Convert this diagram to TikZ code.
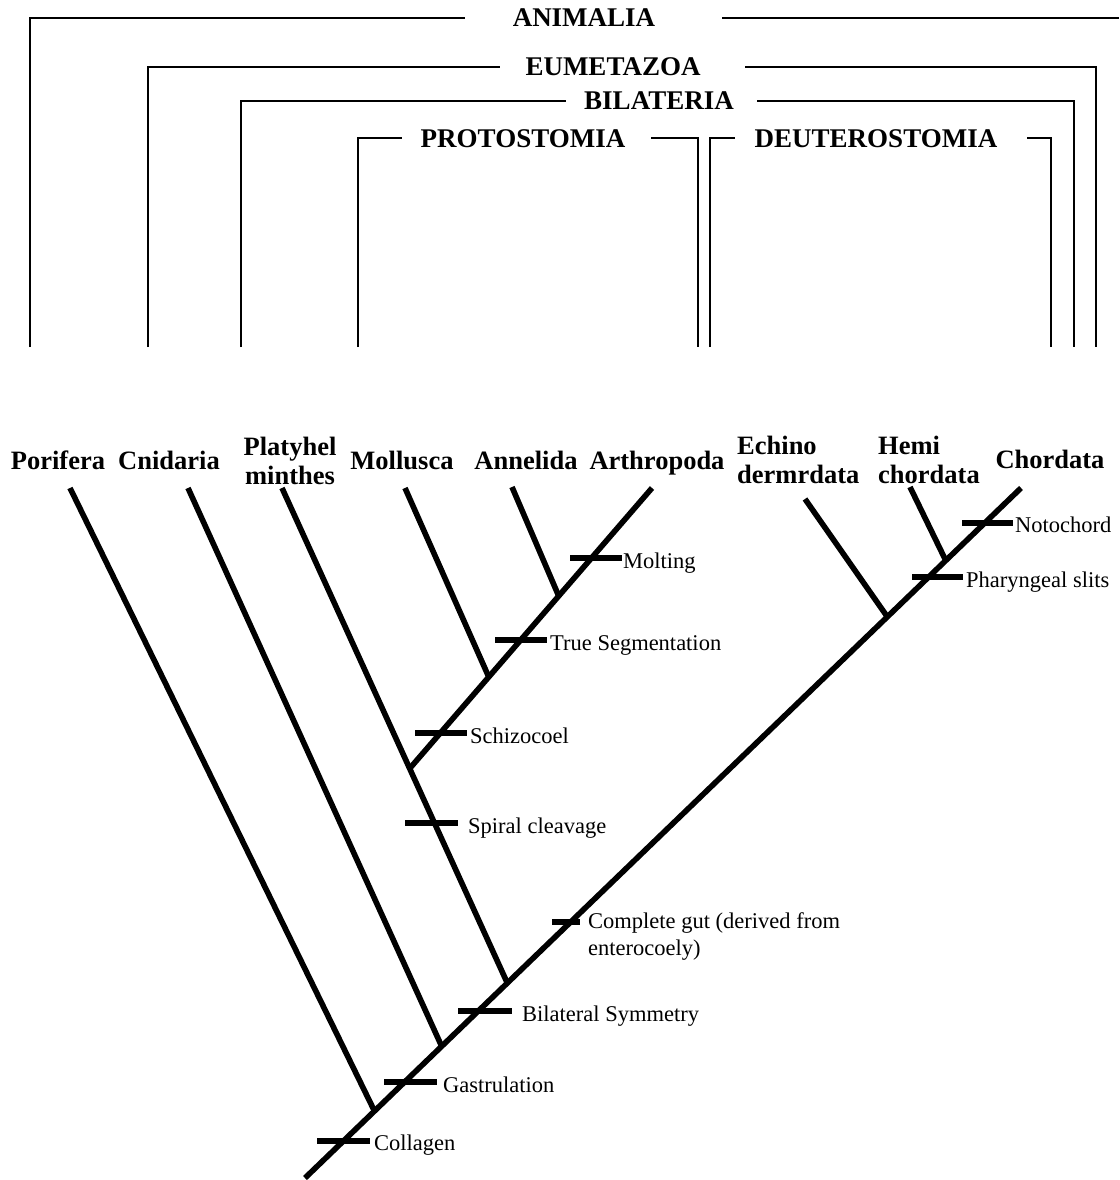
\documentclass[tikz,border=0pt]{standalone}
\usepackage{fontspec}
\setmainfont{Liberation Serif}
\begin{document}
\begin{tikzpicture}[x=1pt,y=-1pt,
  bracket/.style={line width=2.2pt},
  branch/.style={line width=5.6pt},
  tickmark/.style={line width=5.6pt},
  clade/.style={font=\fontsize{27}{30}\selectfont\bfseries, anchor=base, inner sep=0pt},
  taxon/.style={font=\fontsize{26.5}{29}\selectfont\bfseries, inner sep=0pt},
  trait/.style={font=\fontsize{22.5}{27}\selectfont, anchor=base west, inner sep=0pt, align=left}]
\useasboundingbox (0,0) rectangle (1119,1180);

% ---------- clade brackets ----------
\node[clade] (animalia) at (584,27) {ANIMALIA};
\node[clade] (eumetazoa) at (613,76) {EUMETAZOA};
\node[clade] (bilateria) at (659,110) {BILATERIA};
\node[clade] (protostomia) at (523,147) {PROTOSTOMIA};
\node[clade] (deuterostomia) at (876,147) {DEUTEROSTOMIA};

\coordinate (anL0) at (30,347);  \coordinate (anL1) at (465,18);
\coordinate (anR0) at (722,18);  \coordinate (anR1) at (1119,18);
\draw[bracket] (anL0) |- (anL1);
\draw[bracket] (anR0) -- (anR1);

\coordinate (euL0) at (148,347); \coordinate (euL1) at (500,67);
\coordinate (euR0) at (745,67);  \coordinate (euR1) at (1096,347);
\draw[bracket] (euL0) |- (euL1);
\draw[bracket] (euR0) -| (euR1);

\coordinate (biL0) at (241,347); \coordinate (biL1) at (566,101);
\coordinate (biR0) at (757,101); \coordinate (biR1) at (1074,347);
\draw[bracket] (biL0) |- (biL1);
\draw[bracket] (biR0) -| (biR1);

\coordinate (prL0) at (358,347); \coordinate (prL1) at (402,138);
\coordinate (prR0) at (651,138); \coordinate (prR1) at (698,347);
\draw[bracket] (prL0) |- (prL1);
\draw[bracket] (prR0) -| (prR1);

\coordinate (deL0) at (710,347); \coordinate (deL1) at (735,138);
\coordinate (deR0) at (1027,138); \coordinate (deR1) at (1051,347);
\draw[bracket] (deL0) |- (deL1);
\draw[bracket] (deR0) -| (deR1);

% ---------- taxa ----------
\node[taxon, anchor=base] (porifera) at (58,469) {Porifera};
\node[taxon, anchor=base] (cnidaria) at (169,469) {Cnidaria};
\node[taxon, anchor=base, align=center] (platy) at (290,484) {Platyhel\\minthes};
\node[taxon, anchor=base] (mollusca) at (402,469) {Mollusca};
\node[taxon, anchor=base] (annelida) at (526,469) {Annelida};
\node[taxon, anchor=base] (arthropoda) at (657,469) {Arthropoda};
\node[taxon, anchor=base west, align=left] (echino) at (737,483) {Echino\\dermrdata};
\node[taxon, anchor=base west, align=left] (hemi) at (878,483) {Hemi\\chordata};
\node[taxon, anchor=base] (chordata) at (1050,468) {Chordata};

% ---------- tree ----------
\coordinate (root) at (305,1178);
\coordinate (chordTop) at (1021,488);
\draw[branch] (root) -- (chordTop);

\coordinate (porTop) at (70,488);   \coordinate (porDir) at (373,1108);
\coordinate (porJ) at (intersection of porTop--porDir and root--chordTop);
\draw[branch] (porTop) -- (porJ);

\coordinate (cniTop) at (188,488);  \coordinate (cniDir) at (442,1047);
\coordinate (cniJ) at (intersection of cniTop--cniDir and root--chordTop);
\draw[branch] (cniTop) -- (cniJ);

\coordinate (plaTop) at (282,488);  \coordinate (plaDir) at (505,978);
\coordinate (plaJ) at (intersection of plaTop--plaDir and root--chordTop);
\draw[branch] (plaTop) -- (plaJ);

\coordinate (artTop) at (652,488);  \coordinate (proDir) at (411,767);
\coordinate (proJ) at (intersection of artTop--proDir and plaTop--plaDir);
\draw[branch] (proJ) -- (artTop);

\coordinate (molTop) at (405,488);  \coordinate (molDir) at (487,673);
\coordinate (molJ) at (intersection of molTop--molDir and proJ--artTop);
\draw[branch] (molTop) -- (molJ);

\coordinate (annTop) at (512,487);  \coordinate (annDir) at (557,592);
\coordinate (annJ) at (intersection of annTop--annDir and proJ--artTop);
\draw[branch] (annTop) -- (annJ);

\coordinate (echTop) at (805,499);  \coordinate (echDir) at (886,615);
\coordinate (echJ) at (intersection of echTop--echDir and root--chordTop);
\draw[branch] (echTop) -- (echJ);

\coordinate (hemTop) at (910,487);  \coordinate (hemDir) at (944,557);
\coordinate (hemJ) at (intersection of hemTop--hemDir and root--chordTop);
\draw[branch] (hemTop) -- (hemJ);

% ---------- character ticks ----------
\coordinate (tCol0) at (317,1141); \coordinate (tCol1) at (370,1141);
\draw[tickmark] (tCol0) -- (tCol1);
\node[trait] (collagen) at (374,1150) {Collagen};

\coordinate (tGas0) at (384,1082); \coordinate (tGas1) at (437,1082);
\draw[tickmark] (tGas0) -- (tGas1);
\node[trait] (gastrulation) at (443,1092) {Gastrulation};

\coordinate (tBil0) at (458,1011); \coordinate (tBil1) at (512,1011);
\draw[tickmark] (tBil0) -- (tBil1);
\node[trait] (bilateral) at (522,1021) {Bilateral Symmetry};

\coordinate (tGut0) at (552,922); \coordinate (tGut1) at (580,922);
\draw[tickmark] (tGut0) -- (tGut1);
\node[trait] (gut) at (588,955) {Complete gut (derived from\\enterocoely)};

\coordinate (tSpi0) at (405,823); \coordinate (tSpi1) at (458,823);
\draw[tickmark] (tSpi0) -- (tSpi1);
\node[trait] (spiral) at (468,833) {Spiral cleavage};

\coordinate (tSch0) at (415,733); \coordinate (tSch1) at (467,733);
\draw[tickmark] (tSch0) -- (tSch1);
\node[trait] (schizo) at (470,743) {Schizocoel};

\coordinate (tSeg0) at (495,640); \coordinate (tSeg1) at (547,640);
\draw[tickmark] (tSeg0) -- (tSeg1);
\node[trait] (segment) at (550,650) {True Segmentation};

\coordinate (tMol0) at (570,558); \coordinate (tMol1) at (622,558);
\draw[tickmark] (tMol0) -- (tMol1);
\node[trait] (molting) at (623,568) {Molting};

\coordinate (tPha0) at (912,577); \coordinate (tPha1) at (963,577);
\draw[tickmark] (tPha0) -- (tPha1);
\node[trait] (pharyngeal) at (966,587) {Pharyngeal slits};

\coordinate (tNot0) at (962,523); \coordinate (tNot1) at (1013,523);
\draw[tickmark] (tNot0) -- (tNot1);
\node[trait] (notochord) at (1015,532) {Notochord};
\end{tikzpicture}
\end{document}
